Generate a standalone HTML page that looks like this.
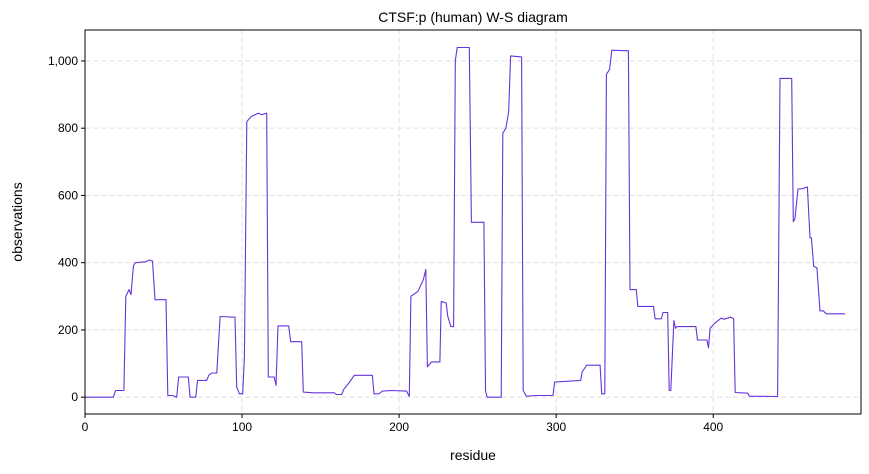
<!DOCTYPE html>
<html><head><meta charset="utf-8"><style>
body{margin:0;background:#fff;}
svg{display:block;font-family:"Liberation Sans","DejaVu Sans",sans-serif;}
</style></head><body>
<svg id="chart" width="869" height="474">
<text x="473" y="22" font-size="14" text-anchor="middle">CTSF:p (human) W-S diagram</text>
<g id="grid"></g><g id="axes"></g><g id="series"></g>
<rect x="85" y="30" width="776" height="384" fill="none" stroke="#000" stroke-width="1"/>
<text x="473" y="460" font-size="14" text-anchor="middle">residue</text>
<text x="22" y="222" font-size="14" text-anchor="middle" transform="rotate(-90 22 222)">observations</text>
</svg>
<script>
const residues=[
0,18,19.5,24.8,26,28,29.3,30.8,32,39,
40.8,43,44.6,51.6,52.7,55.8,58.4,59.6,65.8,66.9,
70.5,71.7,77.5,78.8,80.7,83.9,86,95.5,96.6,98.3,
100.4,101.5,103,106,110.4,112.5,115.7,116.7,120.5,121.6,
122.9,129.7,131,138,139,145,158.7,160,163.4,165,
167.7,171.5,183,184,187,189.5,195,204.8,206.5,207.5,
212,215.5,217,218,220.7,226,226.8,230,231,233,
234.7,235.8,237,244.7,246,254,255,256,265,266,
268,269.8,271,278,279,281,287.6,298,299,315.6,
316.5,319.4,328,329,331,332,334,335.4,346,347,
351,352,362,363,367,368,371,372,373,375,
376,377,389,390,396,397,398,400,401,405,
407,409,411,413,414,422,423,441,442.5,450,
451,452,454,457,460,461.6,462.5,464,466,468,
470,472,484];
const values=[
0,0,20,20,300,320,305,390,400,403,
408,405,290,290,5,5,0,60,60,0,
0,50,50,65,72,72,240,238,30,10,
10,120,820,835,845,840,845,60,60,35,
212,212,165,165,15,13,13,8,8,25,
40,65,65,10,10,18,20,18,2,300,
315,350,380,90,105,105,285,280,240,210,
210,1000,1040,1040,520,520,20,0,0,785,
800,850,1015,1012,20,3,5,5,45,50,
75,95,95,10,10,960,975,1032,1030,320,
320,270,270,233,233,252,252,20,20,228,
205,210,210,170,170,147,205,215,220,235,
232,235,238,233,14,12,3,2,948,948,
522,530,619,620,625,474,474,389,385,257,
257,248,248];
const xTicks=[0,100,200,300,400];
const yTicks=[0,200,400,600,800,1000];
const yTickLabels=["0","200","400","600","800","1,000"];
const X0=85,X1=861,Y0=414,Y1=30,xMin=0,xMax=494.1,yMin=-50,yMax=1092;
const sx=v=>X0+(v-xMin)/(xMax-xMin)*(X1-X0);
const sy=v=>Y0-(v-yMin)/(yMax-yMin)*(Y0-Y1);
const NS="http://www.w3.org/2000/svg";
const grid=document.getElementById('grid'),axes=document.getElementById('axes'),ser=document.getElementById('series');
function mk(t,a,p){const e=document.createElementNS(NS,t);for(const k in a)e.setAttribute(k,a[k]);p.appendChild(e);return e;}
xTicks.forEach(t=>{const x=sx(t);
 const g=mk('line',{x1:x,x2:x,y1:Y1,y2:Y0,stroke:'#e0e0e0','stroke-dasharray':'5,3'},grid);
 
 
 const tk=mk('line',{x1:x,x2:x,y1:Y0,y2:Y0+4,stroke:'#000'},axes);
 
 
 const l=mk('text',{x:x,y:Y0+17,'font-size':12,'text-anchor':'middle'},axes);l.textContent=t;
 
 
});
yTicks.forEach((t,i)=>{const y=sy(t);
 const g=mk('line',{x1:X0,x2:X1,y1:y,y2:y,stroke:'#e0e0e0','stroke-dasharray':'5,3'},grid);
 
 
 const tk=mk('line',{x1:X0-4,x2:X0,y1:y,y2:y,stroke:'#000'},axes);
 
 
 const l=mk('text',{x:X0-7,y:y+4,'font-size':12,'text-anchor':'end'},axes);l.textContent=yTickLabels[i];
 
 
});
const n=Math.min(residues.length,values.length);
const pts=residues.slice(0,n).map((r,i)=>sx(r).toFixed(1)+','+sy(values[i]).toFixed(1)).join(' ');
const pl=mk('polyline',{points:pts,fill:'none',stroke:'#6633dd','stroke-width':1.1,'stroke-linejoin':'round'},ser);


</script>
</body></html>
